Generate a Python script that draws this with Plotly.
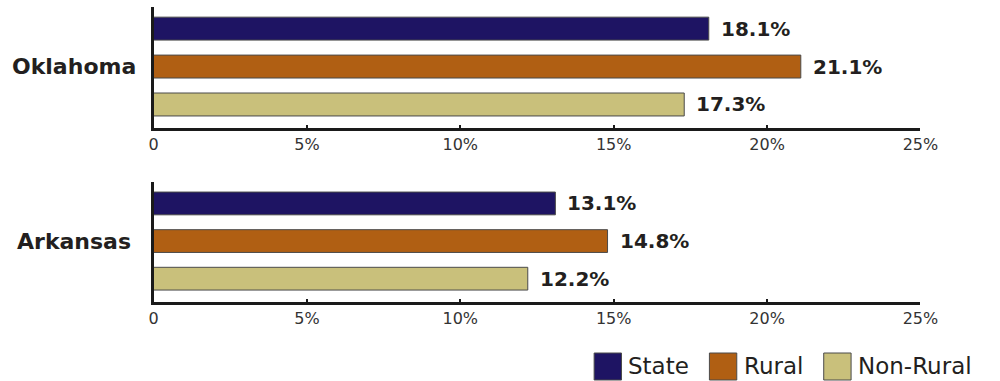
import plotly.graph_objects as go

regions = ["Oklahoma", "Arkansas"]
series = ["State", "Rural", "Non-Rural"]
values = {
    "Oklahoma": [18.1, 21.1, 17.3],
    "Arkansas": [13.1, 14.8, 12.2],
}
colors = ["#1e1463", "#b05f13", "#c9c07b"]
tick_vals = [0, 5, 10, 15, 20, 25]
tick_text = ["0", "5%", "10%", "15%", "20%", "25%"]

FONT = "DejaVu Sans"
TXT = "#231f20"
W, H = 1000, 381

fig = go.Figure()

x_dom = [152 / W, 937 / W]
panels = [(7, 128), (182, 302)]  # top, bottom pixel rows of each panel

for i, region in enumerate(regions):
    xa = "x" if i == 0 else "x2"
    ya = "y" if i == 0 else "y2"
    for s, v, c in zip(series, values[region], colors):
        fig.add_trace(go.Bar(
            y=[s], x=[v], orientation="h", name=s,
            marker=dict(color=c, line=dict(color="#4a4a4a", width=1)),
            width=0.605, xaxis=xa, yaxis=ya, showlegend=False,
            hoverinfo="skip",
        ))
        fig.add_annotation(
            x=v, y=s, xref=xa, yref=ya, text=f"{v:.1f}%",
            xanchor="left", yanchor="middle", xshift=10, showarrow=False,
            font=dict(family=FONT, size=20, color=TXT, weight="bold"),
        )
    fig.add_annotation(
        x=71 / W, xref="paper", y="Rural", yref=ya, text=region,
        xanchor="center", yanchor="middle", showarrow=False,
        font=dict(family=FONT, size=22, color=TXT, weight="bold"),
    )

xaxis_common = dict(
    range=[0, 25], tickvals=tick_vals, ticktext=tick_text,
    showline=True, linecolor="#1a1a1a", linewidth=2.5,
    ticks="inside", ticklen=3, tickwidth=2, tickcolor="#1a1a1a",
    showgrid=False, zeroline=False, fixedrange=True,
    tickfont=dict(family=FONT, size=16, color="#333333"),
    domain=x_dom,
)
yaxis_common = dict(
    type="category", categoryorder="array", categoryarray=series,
    range=[2.62, -0.57], showline=True, linecolor="#1a1a1a", linewidth=2.5,
    showticklabels=False, ticks="", showgrid=False, zeroline=False,
)

fig.update_layout(
    width=W, height=H, autosize=False, margin=dict(l=0, r=0, t=0, b=0),
    paper_bgcolor="white", plot_bgcolor="white",
    barmode="overlay", showlegend=False,
    xaxis=dict(**xaxis_common, anchor="y"),
    xaxis2=dict(**xaxis_common, anchor="y2"),
    yaxis=dict(**yaxis_common, anchor="x",
               domain=[1 - panels[0][1] / H, 1 - panels[0][0] / H]),
    yaxis2=dict(**yaxis_common, anchor="x2",
                domain=[1 - panels[1][1] / H, 1 - panels[1][0] / H]),
)

# legend drawn as boxes + labels (to match the large swatches)
legend_x = [603, 721, 838]
for s, c, lx in zip(series, colors, legend_x):
    fig.add_shape(
        type="rect", xref="paper", yref="paper",
        x0=lx / W, x1=(lx + 28) / W, y0=1 - 380 / H, y1=1 - 353 / H,
        fillcolor=c, line=dict(color="#4a4a4a", width=1),
    )
    fig.add_annotation(
        x=(lx + 33) / W, y=1 - 366 / H, xref="paper", yref="paper",
        text=s, xanchor="left", yanchor="middle", showarrow=False,
        font=dict(family=FONT, size=23, color=TXT),
    )

fig.write_html("out.html", config={"displayModeBar": False})
